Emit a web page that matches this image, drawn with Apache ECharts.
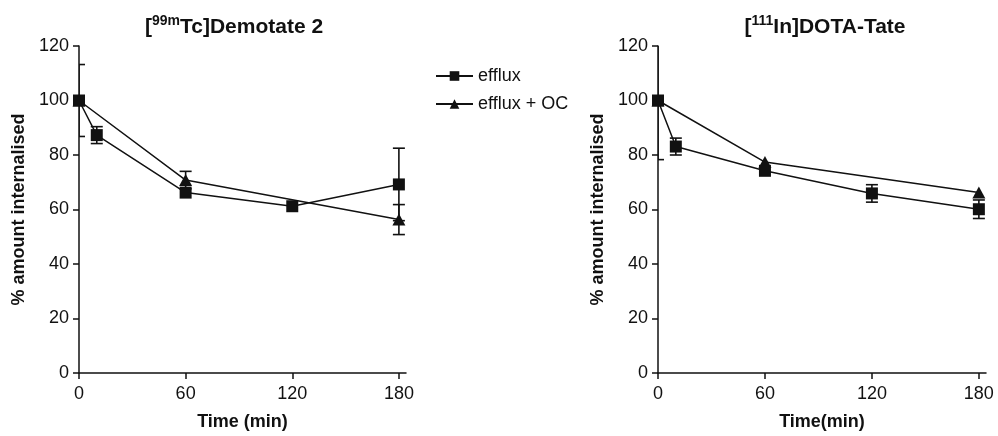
<!DOCTYPE html>
<html>
<head>
<meta charset="utf-8">
<script src="https://cdn.jsdelivr.net/npm/echarts@6/dist/echarts.min.js"></script>
<style>
  html, body { margin: 0; padding: 0; background: #fff; }
  #main { width: 998px; height: 436px; }
</style>
</head>
<body>
<div id="main"></div>
<script>
// time points (min)
var timesSquare = [0, 10, 60, 120, 180];
var timesTriangle = [0, 60, 180];
var xTicks = [0, 60, 120, 180];

// [99mTc]Demotate 2
var demEfflux = [100, 87.3, 66.2, 61.2, 69.2];
var demEffluxErr = [13.2, 3.1, 0, 0, 13.3];
var demEffluxOC = [100, 70.8, 56.3];
var demEffluxOCErr = [0, 3.2, 5.5];

// [111In]DOTA-Tate
var dotaEfflux = [100, 83.1, 74.2, 65.9, 60.1];
var dotaEffluxErr = [21.7, 3.1, 0, 3.2, 3.4];
var dotaEffluxOC = [100, 77.4, 66.2];
var dotaEffluxOCErr = [0, 0, 0];

var ink = "#111";
var fontName = "Liberation Sans";

function pairs(xs, ys) {
  return xs.map(function (x, i) { return [x, ys[i]]; });
}
function errData(xs, ys, es) {
  var out = [];
  xs.forEach(function (x, i) {
    if (es[i] > 0) out.push([x, ys[i] - es[i], ys[i] + es[i]]);
  });
  return out;
}

// vertical whisker with caps
function renderErr(params, api) {
  var x = api.value(0);
  var lo = api.coord([x, api.value(1)]);
  var hi = api.coord([x, api.value(2)]);
  var w = 6;
  var st = { stroke: ink, lineWidth: 1.6 };
  return {
    type: "group",
    children: [
      { type: "line", shape: { x1: lo[0], y1: lo[1], x2: hi[0], y2: hi[1] }, style: st },
      { type: "line", shape: { x1: lo[0] - w, y1: lo[1], x2: lo[0] + w, y2: lo[1] }, style: st },
      { type: "line", shape: { x1: hi[0] - w, y1: hi[1], x2: hi[0] + w, y2: hi[1] }, style: st }
    ]
  };
}

function xAxisOf(idx, name) {
  return {
    gridIndex: idx, type: "value", min: 0, max: 184,
    name: name, nameLocation: "middle", nameGap: 40,
    nameTextStyle: { fontFamily: fontName, fontWeight: "bold", fontSize: 18, color: ink },
    axisLine: { show: true, lineStyle: { color: ink, width: 1.5 } },
    axisTick: { show: true, length: 6, customValues: xTicks, lineStyle: { color: ink, width: 1.5 } },
    axisLabel: { customValues: xTicks, margin: 12, fontFamily: fontName, fontSize: 18, color: ink },
    splitLine: { show: false }
  };
}
function yAxisOf(idx) {
  return {
    gridIndex: idx, type: "value", min: 0, max: 120, interval: 20,
    name: "% amount internalised", nameLocation: "middle", nameGap: 51, nameRotate: 90,
    nameTextStyle: { fontFamily: fontName, fontWeight: "bold", fontSize: 18, color: ink },
    axisLine: { show: true, lineStyle: { color: ink, width: 1.5 } },
    axisTick: { show: true, length: 6, lineStyle: { color: ink, width: 1.5 } },
    axisLabel: { margin: 10, fontFamily: fontName, fontSize: 18, color: ink },
    splitLine: { show: false }
  };
}
function lineSeries(idx, name, symbol, size, data) {
  return {
    type: "line", name: name, xAxisIndex: idx, yAxisIndex: idx,
    data: data, symbol: symbol, symbolSize: size, showSymbol: true,
    lineStyle: { color: ink, width: 1.5 },
    itemStyle: { color: ink },
    z: 3, animation: false
  };
}
function errSeries(idx, data) {
  return {
    type: "custom", xAxisIndex: idx, yAxisIndex: idx,
    renderItem: renderErr, data: data, clip: true, z: 2,
    silent: true, animation: false
  };
}

var titleRich = {
  b: { fontFamily: fontName, fontWeight: "bold", fontSize: 21, color: ink, lineHeight: 26 },
  sup: { fontFamily: fontName, fontWeight: "bold", fontSize: 14, color: ink, verticalAlign: "top", lineHeight: 26 }
};

var myChart = echarts.init(document.getElementById("main"));
var option = {
  backgroundColor: "#fff",
  title: [
    { text: "{b|[}{sup|99m}{b|Tc]Demotate 2}", left: 229, top: 9, textAlign: "center",
      textStyle: { rich: titleRich } },
    { text: "{b|[}{sup|111}{b|In]DOTA-Tate}", left: 820, top: 9, textAlign: "center",
      textStyle: { rich: titleRich } }
  ],
  legend: {
    orient: "vertical", left: 430, top: 62, itemGap: 10,
    itemWidth: 37, itemHeight: 12, itemStyle: { color: ink },
    textStyle: { fontFamily: fontName, fontSize: 18, color: ink },
    data: ["efflux", "efflux + OC"]
  },
  grid: [
    { left: 79, top: 46, width: 327, height: 328 },
    { left: 658, top: 46, width: 328, height: 328 }
  ],
  xAxis: [xAxisOf(0, "Time (min)"), xAxisOf(1, "Time(min)")],
  yAxis: [yAxisOf(0), yAxisOf(1)],
  series: [
    errSeries(0, errData(timesSquare, demEfflux, demEffluxErr)),
    errSeries(0, errData(timesTriangle, demEffluxOC, demEffluxOCErr)),
    lineSeries(0, "efflux", "rect", 12, pairs(timesSquare, demEfflux)),
    lineSeries(0, "efflux + OC", "triangle", [13, 12], pairs(timesTriangle, demEffluxOC)),
    errSeries(1, errData(timesSquare, dotaEfflux, dotaEffluxErr)),
    errSeries(1, errData(timesTriangle, dotaEffluxOC, dotaEffluxOCErr)),
    lineSeries(1, "efflux", "rect", 12, pairs(timesSquare, dotaEfflux)),
    lineSeries(1, "efflux + OC", "triangle", [13, 12], pairs(timesTriangle, dotaEffluxOC))
  ]
};
if (option && typeof option === "object") {
  myChart.setOption(option);
}
</script>
</body>
</html>
